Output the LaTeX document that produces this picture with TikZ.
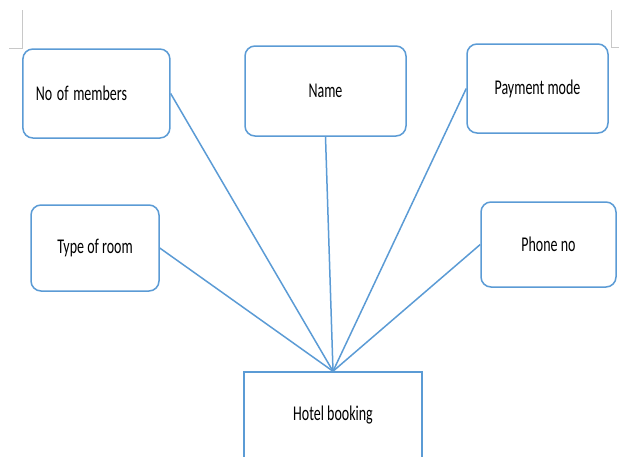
\documentclass[tikz,border=0pt]{standalone}
\usepackage{fontspec}
\setmainfont{Carlito}
\newcommand{\tallt}[1]{\scalebox{1}[1.5]{#1}}
\definecolor{officeblue}{HTML}{5B9BD5}
\definecolor{marggray}{HTML}{C8C8C8}

\begin{document}
\begin{tikzpicture}[x=1pt,y=-1pt,
		attr/.style={draw=officeblue,line width=1.5pt,rounded corners=10pt,fill=white,font=\fontsize{14}{16}\selectfont,text=black,inner sep=0pt},
		entity/.style={draw=officeblue,line width=1.5pt,fill=white,font=\fontsize{14}{16}\selectfont,text=black,inner sep=0pt},
		link/.style={draw=officeblue,line width=1.5pt}]
		\useasboundingbox (0,0) rectangle (619,456);
		\clip (0,0) rectangle (619,456);
		\draw[line width=0.6pt,color=marggray] (22,10) -- (22,48) -- (9,48);
		\draw[line width=0.6pt,color=marggray] (611,10) -- (611,47) -- (619,47);
		\node[attr,minimum width=147,minimum height=89,text width=121pt,inner xsep=13pt,align=left] (members) at (96.4,93.5) {\tallt{No of members}};
		\node[attr,minimum width=161,minimum height=90] (name) at (325.5,91) {\tallt{Name}};
		\node[attr,minimum width=141,minimum height=89] (payment) at (537.5,88.5) {\tallt{Payment mode}};
		\node[attr,minimum width=128,minimum height=86] (room) at (95,248) {\tallt{Type of room}};
		\node[attr,minimum width=135,minimum height=85] (phone) at (548.5,244.5) {\tallt{Phone no}};
		\node[entity,minimum width=178,minimum height=86] (hotel) at (333,415) {\tallt{Hotel booking}};
		\foreach \a in {members.east,name.south,payment.west,room.east,phone.west} {
			\draw[link] (\a) -- (hotel.north);
		}
	\end{tikzpicture}
\end{document}
